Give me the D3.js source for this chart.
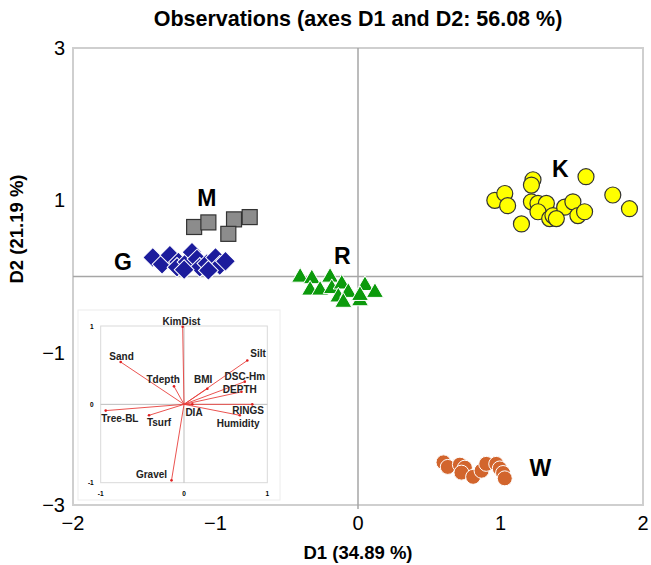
<!DOCTYPE html>
<html>
<head>
<meta charset="utf-8">
<script src="https://cdn.jsdelivr.net/npm/d3@7"></script>
<style>
  body { margin: 0; background: #fff; }
  svg { font-family: "Liberation Sans", Arial, sans-serif; }
</style>
</head>
<body>
<div id="chart"></div>
<script>
// Observations, D1 / D2
const groupG = [[-1.44,0.25],[-1.375,0.16],[-1.32,0.28],[-1.26,0.19],[-1.27,0.12],[-1.2,0.19],[-1.165,0.32],[-1.13,0.23],[-1.11,0.12],[-1.06,0.17],[-1.0,0.25],[-0.97,0.145],[-0.93,0.2],[-1.22,0.09],[-1.05,0.08]];
const groupM = [[-1.15,0.65],[-1.05,0.71],[-0.87,0.75],[-0.76,0.78],[-0.91,0.56]];
const groupR = [[-0.406,-0.01],[-0.324,-0.03],[-0.196,-0.01],[-0.336,-0.18],[-0.266,-0.18],[-0.184,-0.16],[-0.114,-0.10],[-0.138,-0.27],[-0.068,-0.21],[-0.103,-0.34],[0.014,-0.32],[0.049,-0.12],[0.119,-0.21],[0.014,-0.25]];
const groupK = [[0.96,1.0],[1.03,1.09],[1.05,0.93],[1.228,1.27],[1.217,1.2],[1.217,0.98],[1.263,0.96],[1.322,0.96],[1.263,0.85],[1.345,0.76],[1.368,0.8],[1.45,0.91],[1.508,0.98],[1.543,0.8],[1.59,0.85],[1.6,1.31],[1.788,1.07],[1.905,0.89],[1.147,0.69],[1.392,0.76]];
const groupW = [[0.6,-2.44],[0.63,-2.5],[0.715,-2.47],[0.75,-2.51],[0.726,-2.575],[0.808,-2.63],[0.867,-2.55],[0.9,-2.46],[0.97,-2.46],[0.995,-2.52],[1.018,-2.58],[1.03,-2.65]];

const groupLabels = [
  { name: 'K', x: 1.42, y: 1.38 },
  { name: 'M', x: -1.06, y: 1.0 },
  { name: 'G', x: -1.65, y: 0.16 },
  { name: 'R', x: -0.11, y: 0.24 },
  { name: 'W', x: 1.28, y: -2.54 }
];

const xTicks = [-2, -1, 0, 1, 2];
const yTicks = [-3, -1, 1, 3];

// Inset: variables (correlation circle)
const variables = [
  { name: 'KimDist', x: -0.016, y: 0.99, lx: -0.03, ly: 1.05 },
  { name: 'Sand', x: -0.76, y: 0.54, lx: -0.75, ly: 0.60 },
  { name: 'Tdepth', x: -0.12, y: 0.23, lx: -0.25, ly: 0.31 },
  { name: 'BMI', x: 0.28, y: 0.2, lx: 0.23, ly: 0.30 },
  { name: 'Silt', x: 0.76, y: 0.56, lx: 0.89, ly: 0.64 },
  { name: 'DSC-Hm', x: 0.73, y: 0.29, lx: 0.73, ly: 0.35 },
  { name: 'DEPTH', x: 0.69, y: 0.16, lx: 0.67, ly: 0.18 },
  { name: 'RINGS', x: 0.82, y: 0.0, lx: 0.77, ly: -0.09 },
  { name: 'Humidity', x: 0.67, y: -0.14, lx: 0.65, ly: -0.255 },
  { name: 'DIA', x: 0.1, y: 0.0, lx: 0.12, ly: -0.115 },
  { name: 'Tree-BL', x: -0.94, y: -0.08, lx: -0.77, ly: -0.19 },
  { name: 'Tsurf', x: -0.42, y: -0.14, lx: -0.30, ly: -0.24 },
  { name: 'Gravel', x: -0.15, y: -0.97, lx: -0.39, ly: -0.90 }
];
const insetTicks = [-1, 0, 1];

const W = 651, H = 565;
const margin = { top: 48, right: 8, bottom: 60, left: 73 };

const svg = d3.select('#chart').append('svg')
  .attr('width', W)
  .attr('height', H);

const x = d3.scaleLinear().domain([-2, 2]).range([margin.left, W - margin.right]);
const y = d3.scaleLinear().domain([-3, 3]).range([H - margin.bottom, margin.top]);

// title
svg.append('text')
  .attr('x', 358).attr('y', 26)
  .attr('text-anchor', 'middle')
  .style('font-size', '21.5px').style('font-weight', 'bold')
  .text('Observations (axes D1 and D2: 56.08 %)');

// plot border
svg.append('rect')
  .attr('x', x(-2)).attr('y', y(3))
  .attr('width', x(2) - x(-2)).attr('height', y(-3) - y(3))
  .attr('fill', 'none').attr('stroke', '#cfcfcf').attr('stroke-width', 2);

// zero lines
svg.append('line')
  .attr('x1', x(-2)).attr('x2', x(2)).attr('y1', y(0)).attr('y2', y(0))
  .attr('stroke', '#a6a6a6').attr('stroke-width', 1.5);
svg.append('line')
  .attr('x1', x(0)).attr('x2', x(0)).attr('y1', y(3)).attr('y2', y(-3) + 4)
  .attr('stroke', '#a6a6a6').attr('stroke-width', 1.5);

// tick labels
const fmt = d => d < 0 ? '\u2212' + Math.abs(d) : String(d);
svg.selectAll('.xt').data(xTicks).enter().append('text')
  .attr('class', 'xt')
  .attr('x', d => x(d)).attr('y', H - margin.bottom + 25)
  .attr('text-anchor', 'middle')
  .style('font-size', '20px')
  .text(fmt);
svg.selectAll('.yt').data(yTicks).enter().append('text')
  .attr('class', 'yt')
  .attr('x', margin.left - 8).attr('y', d => y(d) + 7)
  .attr('text-anchor', 'end')
  .style('font-size', '20px')
  .text(fmt);

// axis titles
svg.append('text')
  .attr('x', 358).attr('y', 559)
  .attr('text-anchor', 'middle')
  .style('font-size', '18.5px').style('font-weight', 'bold')
  .text('D1 (34.89 %)');
svg.append('text')
  .attr('transform', 'translate(23,229) rotate(-90)')
  .attr('text-anchor', 'middle')
  .style('font-size', '18.5px').style('font-weight', 'bold')
  .text('D2 (21.19 %)');

// markers
const pts = svg.append('g');

pts.selectAll('.g').data(groupG).enter().append('rect')
  .attr('x', -7).attr('y', -7).attr('width', 14).attr('height', 14)
  .attr('transform', d => `translate(${x(d[0])},${y(d[1])}) rotate(45)`)
  .attr('fill', '#1c1c9c').attr('stroke', '#ffffff').attr('stroke-width', 1);

pts.selectAll('.m').data(groupM).enter().append('rect')
  .attr('x', d => x(d[0]) - 7.5).attr('y', d => y(d[1]) - 7.5)
  .attr('width', 15).attr('height', 15)
  .attr('fill', '#8c8c8c').attr('stroke', '#333333').attr('stroke-width', 1.2);

const tri = d3.symbol().type(d3.symbolTriangle).size(125);
pts.selectAll('.r').data(groupR).enter().append('path')
  .attr('d', tri)
  .attr('transform', d => `translate(${x(d[0])},${y(d[1])})`)
  .attr('fill', '#0c9a0c').attr('stroke', '#ffffff').attr('stroke-width', 1);

pts.selectAll('.k').data(groupK).enter().append('circle')
  .attr('cx', d => x(d[0])).attr('cy', d => y(d[1])).attr('r', 8)
  .attr('fill', '#ffff00').attr('stroke', '#333333').attr('stroke-width', 1.2);

pts.selectAll('.w').data(groupW).enter().append('circle')
  .attr('cx', d => x(d[0])).attr('cy', d => y(d[1])).attr('r', 7.5)
  .attr('fill', '#d2652d').attr('stroke', '#ffffff').attr('stroke-width', 1);

svg.selectAll('.gl').data(groupLabels).enter().append('text')
  .attr('x', d => x(d.x)).attr('y', d => y(d.y))
  .attr('text-anchor', 'middle').attr('dominant-baseline', 'middle')
  .style('font-size', '23px').style('font-weight', 'bold')
  .text(d => d.name);

// inset
const inset = svg.append('g');
inset.append('rect')
  .attr('x', 78).attr('y', 310).attr('width', 202).attr('height', 190)
  .attr('fill', '#ffffff').attr('stroke', '#ececec').attr('stroke-width', 1);

const ix = d3.scaleLinear().domain([-1, 1]).range([100.7, 267.3]);
const iy = d3.scaleLinear().domain([-1, 1]).range([482.7, 326]);

inset.append('rect')
  .attr('x', ix(-1)).attr('y', iy(1))
  .attr('width', ix(1) - ix(-1)).attr('height', iy(-1) - iy(1))
  .attr('fill', 'none').attr('stroke', '#d9d9d9').attr('stroke-width', 1);
inset.append('line')
  .attr('x1', ix(-1)).attr('x2', ix(1)).attr('y1', iy(0)).attr('y2', iy(0))
  .attr('stroke', '#bdbdbd').attr('stroke-width', 1);
inset.append('line')
  .attr('x1', ix(0)).attr('x2', ix(0)).attr('y1', iy(1)).attr('y2', iy(-1))
  .attr('stroke', '#bdbdbd').attr('stroke-width', 1);

inset.selectAll('.ixt').data(insetTicks).enter().append('text')
  .attr('x', d => ix(d)).attr('y', iy(-1) + 13)
  .attr('text-anchor', 'middle')
  .style('font-size', '6.5px').style('font-weight', 'bold')
  .text(d => d);
inset.selectAll('.iyt').data(insetTicks).enter().append('text')
  .attr('x', ix(-1) - 7).attr('y', d => iy(d) + 2.5)
  .attr('text-anchor', 'end')
  .style('font-size', '6.5px').style('font-weight', 'bold')
  .text(d => d);

inset.selectAll('.vec').data(variables).enter().append('line')
  .attr('x1', ix(0)).attr('y1', iy(0))
  .attr('x2', d => ix(d.x)).attr('y2', d => iy(d.y))
  .attr('stroke', '#e8403c').attr('stroke-width', 0.9);
inset.selectAll('.dot').data(variables).enter().append('circle')
  .attr('cx', d => ix(d.x)).attr('cy', d => iy(d.y)).attr('r', 1.3)
  .attr('fill', '#e02020');
inset.selectAll('.vl').data(variables).enter().append('text')
  .attr('x', d => ix(d.lx)).attr('y', d => iy(d.ly))
  .attr('text-anchor', 'middle').attr('dominant-baseline', 'middle')
  .style('font-size', '10px').style('font-weight', 'bold').attr('fill', '#222')
  .text(d => d.name);
</script>
</body>
</html>
